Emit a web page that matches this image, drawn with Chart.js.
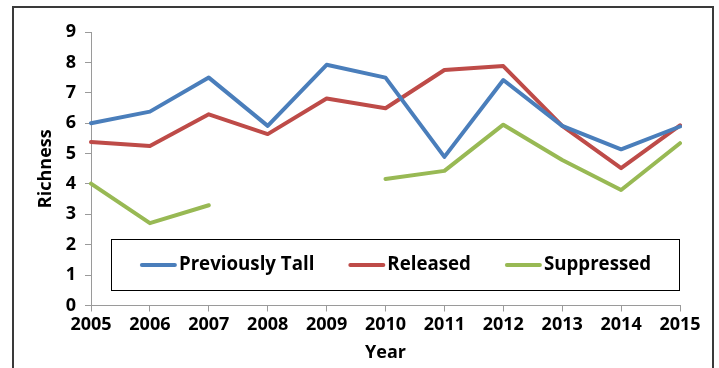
<!DOCTYPE html>
<html>
<head>
<meta charset="utf-8">
<script src="https://cdn.jsdelivr.net/npm/chart.js@4.4.1/dist/chart.umd.min.js"></script>
<style>
  html, body { margin: 0; padding: 0; background: #fff; overflow: hidden; }
  #wrap { position: relative; width: 719px; height: 368px; overflow: hidden; }
  #frame { position: absolute; left: 12px; top: 6px; width: 698px; height: 400px; border: 2px solid #3a3a3a; pointer-events: none; }
  canvas { position: absolute; left: 0; top: 0; }
</style>
</head>
<body>
<div id="wrap">
  <canvas id="chart" width="719" height="368"></canvas>
  <div id="frame"></div>
</div>
<script>
// values
const years = ['2005', '2006', '2007', '2008', '2009', '2010', '2011', '2012', '2013', '2014', '2015'];
const previouslyTall = [6.0, 6.38, 7.5, 5.91, 7.92, 7.5, 4.89, 7.42, 5.91, 5.14, 5.89];
const released = [5.38, 5.25, 6.29, 5.64, 6.81, 6.49, 7.75, 7.88, 5.91, 4.52, 5.93];
const suppressed = [4.01, 2.71, 3.3, null, null, 4.16, 4.43, 5.95, 4.79, 3.8, 5.34];
const yMin = 0;
const yMax = 9;
const yStep = 1;

const FONT = "'Open Sans', 'DejaVu Sans', sans-serif";

// legend drawn as a boxed strip inside the plot, like the Excel original
const boxLegend = {
    id: 'boxLegend',
    afterDraw(chart) {
        const ctx = chart.ctx;
        const area = chart.chartArea;
        const left = area.left + 20;
        const right = area.right;
        const top = 239;
        const bottom = 291;
        const midY = (top + bottom) / 2;

        ctx.save();
        ctx.fillStyle = '#fff';
        ctx.fillRect(left, top, right - left, bottom - top);
        ctx.strokeStyle = '#000';
        ctx.lineWidth = 1;
        ctx.strokeRect(left + 0.5, top + 0.5, right - left - 1, bottom - top - 1);

        ctx.font = 'bold 18.7px ' + FONT;
        ctx.textBaseline = 'middle';
        ctx.textAlign = 'left';
        const lineLen = 37, gapText = 2, gapItem = 34;
        const items = chart.data.datasets.map(ds => ({
            label: ds.label,
            color: ds.borderColor,
            w: lineLen + gapText + ctx.measureText(ds.label).width
        }));
        const total = items.reduce((s, it) => s + it.w, 0) + gapItem * (items.length - 1);
        let x = (left + right) / 2 - total / 2;
        items.forEach(it => {
            ctx.strokeStyle = it.color;
            ctx.lineWidth = 4;
            ctx.lineCap = 'round';
            ctx.beginPath();
            ctx.moveTo(x + 2, midY);
            ctx.lineTo(x + lineLen - 2, midY);
            ctx.stroke();
            ctx.fillStyle = '#000';
            ctx.fillText(it.label, x + lineLen + gapText, midY);
            x += it.w + gapItem;
        });
        ctx.restore();
    }
};

const ctx = document.getElementById('chart').getContext('2d');
new Chart(ctx, {
    type: 'line',
    data: {
        labels: years,
        datasets: [
            { label: 'Previously Tall', data: previouslyTall, borderColor: '#4A7EBB' },
            { label: 'Released', data: released, borderColor: '#BE4B48' },
            { label: 'Suppressed', data: suppressed, borderColor: '#98B954' }
        ].map(ds => Object.assign(ds, {
            borderWidth: 4,
            pointRadius: 0,
            tension: 0,
            fill: false,
            spanGaps: false,
            borderCapStyle: 'round',
            borderJoinStyle: 'round'
        }))
    },
    options: {
        responsive: false,
        animation: false,
        devicePixelRatio: 1,
        layout: { padding: { top: 32, right: 39, left: 0, bottom: 0 } },
        plugins: {
            legend: { display: false },
            tooltip: { enabled: false }
        },
        scales: {
            x: {
                offset: false,
                grid: { display: true, drawOnChartArea: false, drawTicks: true, tickLength: 6, color: '#9a9a9a' },
                border: { color: '#9a9a9a', width: 1 },
                ticks: { color: '#000', font: { family: FONT, size: 18, weight: 'bold' }, padding: 3, maxRotation: 0, autoSkip: false },
                title: { display: true, text: 'Year', color: '#000', font: { family: FONT, size: 18, weight: 'bold' }, padding: { top: 0, bottom: 4 } },
                afterFit(scale) { scale.height = 62.5; }
            },
            y: {
                min: yMin,
                max: yMax,
                grid: { display: true, drawOnChartArea: false, drawTicks: true, tickLength: 6, color: '#9a9a9a' },
                border: { color: '#9a9a9a', width: 1 },
                ticks: { stepSize: yStep, color: '#000', font: { family: FONT, size: 18, weight: 'bold' }, padding: 9 },
                title: { display: true, text: 'Richness', color: '#000', font: { family: FONT, size: 18, weight: 'bold' }, padding: { top: 35, bottom: 0 } },
                afterFit(scale) { scale.width = 91; }
            }
        }
    },
    plugins: [boxLegend]
});
</script>
</body>
</html>
